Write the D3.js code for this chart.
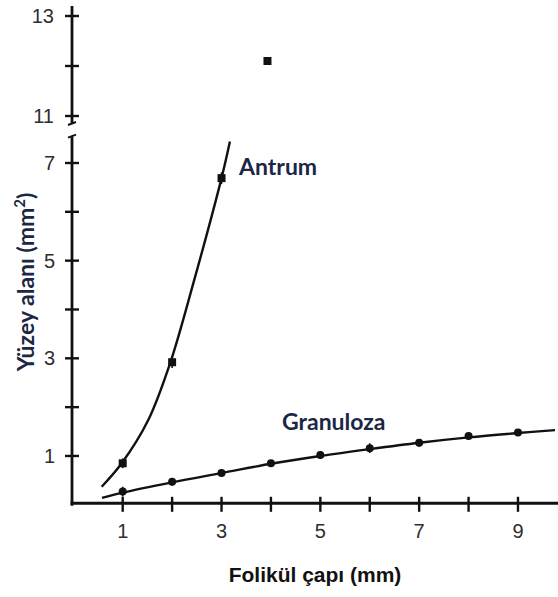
<!DOCTYPE html>
<html>
<head>
<meta charset="utf-8">
<script src="https://cdn.jsdelivr.net/npm/d3@7"></script>
<style>
  body { margin: 0; background: #fff; }
  svg { display: block; }
</style>
</head>
<body>
<div id="chart"></div>
<script>
// values
var xTicks = [1, 2, 3, 4, 5, 6, 7, 8, 9];
var xTickLabels = [1, 3, 5, 7, 9];
var yLowTicks = [1, 2, 3, 4, 5, 6, 7];
var yHighTicks = [11, 12, 13];
var yLowLabels = [1, 3, 5, 7];
var yHighLabels = [11, 13];

// Granuloza
var granX = [1, 2, 3, 4, 5, 6, 7, 8, 9];
var granY = [0.27, 0.47, 0.65, 0.85, 1.02, 1.16, 1.27, 1.41, 1.48];
var granErr = [0.1, 0.08, 0.06, 0.05, 0.08, 0.1, 0.08, 0.07, 0.05];
var granCurveX = [0.58, 1, 2, 3, 4, 5, 6, 7, 8, 9, 9.75];
var granCurveY = [0.14, 0.25, 0.46, 0.65, 0.84, 1.0, 1.14, 1.27, 1.38, 1.47, 1.53];

// Antrum
var antX = [1, 2, 3];
var antY = [0.85, 2.92, 6.69];
var antErr = [0.1, 0.12, 0.12];
var antCurveX = [0.575, 0.98, 1.52, 1.96, 2.43, 3.0, 3.17];
var antCurveY = [0.37, 0.85, 1.74, 2.90, 4.54, 6.69, 7.44];
var antOutlierX = [3.93];
var antOutlierY = [12.1];

var W = 558, H = 597;
var svg = d3.select("#chart").append("svg").attr("width", W).attr("height", H);

var x = d3.scaleLinear().domain([0, 9.8]).range([73.3, 557.5]);
var yLow = d3.scaleLinear().domain([0, 7.6]).range([504.8, 133.7]);
var yHigh = d3.scaleLinear().domain([10.8, 13.2]).range([126, 6]);
var yOf = function(v) { return v > 9 ? yHigh(v) : yLow(v); };

var ink = "#111";
var axisX = 72;

// y axis, two pieces with a break
svg.append("line").attr("x1", axisX).attr("x2", axisX)
  .attr("y1", yHigh(13.2)).attr("y2", yHigh(10.85))
  .attr("stroke", ink).attr("stroke-width", 2.8);
svg.append("line").attr("x1", axisX).attr("x2", axisX)
  .attr("y1", yLow(7.55)).attr("y2", yLow(0) + 1)
  .attr("stroke", ink).attr("stroke-width", 2.8);
// break marks
[yHigh(10.85), yLow(7.55)].forEach(function(yy) {
  svg.append("line").attr("x1", axisX - 4).attr("x2", axisX + 4)
    .attr("y1", yy + 1.5).attr("y2", yy - 1.5)
    .attr("stroke", ink).attr("stroke-width", 2);
});

// x axis
svg.append("line").attr("x1", axisX - 1.4).attr("x2", W)
  .attr("y1", yLow(0) - 1.5).attr("y2", yLow(0) - 1.5)
  .attr("stroke", ink).attr("stroke-width", 3);

// ticks
svg.selectAll(".ylt").data(yLowTicks).enter().append("line")
  .attr("x1", axisX - 7).attr("x2", axisX + 7)
  .attr("y1", function(d) { return yLow(d); }).attr("y2", function(d) { return yLow(d); })
  .attr("stroke", ink).attr("stroke-width", 2.4);
svg.selectAll(".yht").data(yHighTicks).enter().append("line")
  .attr("x1", axisX - 7).attr("x2", axisX + 7)
  .attr("y1", function(d) { return yHigh(d); }).attr("y2", function(d) { return yHigh(d); })
  .attr("stroke", ink).attr("stroke-width", 2.4);
svg.selectAll(".xt").data(xTicks).enter().append("line")
  .attr("x1", function(d) { return x(d); }).attr("x2", function(d) { return x(d); })
  .attr("y1", yLow(0) - 8).attr("y2", yLow(0) + 7)
  .attr("stroke", ink).attr("stroke-width", 2.4);

// tick labels
var tickFont = "Liberation Sans, Arial, sans-serif";
var tickCol = "#2e2e2e";
svg.selectAll(".yll").data(yLowLabels).enter().append("text")
  .attr("x", 55).attr("y", function(d) { return yLow(d) + 7; })
  .attr("text-anchor", "end").attr("font-family", tickFont).attr("font-size", 20)
  .attr("fill", tickCol).text(function(d) { return d; });
svg.selectAll(".yhl").data(yHighLabels).enter().append("text")
  .attr("x", 54).attr("y", function(d) { return yHigh(d) + 7; })
  .attr("text-anchor", "end").attr("font-family", tickFont).attr("font-size", 20)
  .attr("fill", tickCol).text(function(d) { return d; });
svg.selectAll(".xl").data(xTickLabels).enter().append("text")
  .attr("x", function(d) { return x(d); }).attr("y", 538)
  .attr("text-anchor", "middle").attr("font-family", tickFont).attr("font-size", 20)
  .attr("fill", tickCol).text(function(d) { return d; });

// curves
var line = d3.line().curve(d3.curveCatmullRom.alpha(0.5))
  .x(function(d) { return x(d[0]); }).y(function(d) { return yOf(d[1]); });

svg.append("path").datum(d3.zip(granCurveX, granCurveY)).attr("d", line)
  .attr("fill", "none").attr("stroke", ink).attr("stroke-width", 2.4);
svg.append("path").datum(d3.zip(antCurveX, antCurveY)).attr("d", line)
  .attr("fill", "none").attr("stroke", ink).attr("stroke-width", 2.4);

// error bars
function errBars(xs, ys, es) {
  svg.append("g").selectAll("line").data(d3.zip(xs, ys, es)).enter().append("line")
    .attr("x1", function(d) { return x(d[0]); }).attr("x2", function(d) { return x(d[0]); })
    .attr("y1", function(d) { return yOf(d[1] - d[2]); })
    .attr("y2", function(d) { return yOf(d[1] + d[2]); })
    .attr("stroke", ink).attr("stroke-width", 1.6);
}
errBars(granX, granY, granErr);
errBars(antX, antY, antErr);

// markers
svg.append("g").selectAll("circle").data(d3.zip(granX, granY)).enter().append("circle")
  .attr("cx", function(d) { return x(d[0]); }).attr("cy", function(d) { return yOf(d[1]); })
  .attr("r", 4).attr("fill", ink);
svg.append("g").selectAll("rect").data(d3.zip(antX.concat(antOutlierX), antY.concat(antOutlierY))).enter().append("rect")
  .attr("x", function(d) { return x(d[0]) - 4; }).attr("y", function(d) { return yOf(d[1]) - 4; })
  .attr("width", 8).attr("height", 8).attr("fill", ink);

// labels
var navy = "#1b2745";
var labFont = "Lato, 'Open Sans', sans-serif";
svg.append("text").attr("x", 239).attr("y", 175)
  .attr("font-family", labFont).attr("font-weight", "bold")
  .attr("font-size", 23).attr("fill", navy).text("Antrum");
svg.append("text").attr("x", 282).attr("y", 430)
  .attr("font-family", labFont).attr("font-weight", "bold")
  .attr("font-size", 23).attr("fill", navy).text("Granuloza");

svg.append("text")
  .attr("transform", "translate(34,282) rotate(-90)")
  .attr("text-anchor", "middle")
  .attr("font-family", labFont).attr("font-weight", "bold")
  .attr("font-size", 23).attr("fill", navy)
  .html('Yüzey alanı (mm<tspan baseline-shift="super" font-size="15">2</tspan>)');

svg.append("text").attr("x", 315).attr("y", 582)
  .attr("text-anchor", "middle")
  .attr("font-family", "Liberation Sans, Arial, sans-serif").attr("font-weight", "bold")
  .attr("font-size", 21).attr("fill", "#111").text("Folikül çapı (mm)");
</script>
</body>
</html>
